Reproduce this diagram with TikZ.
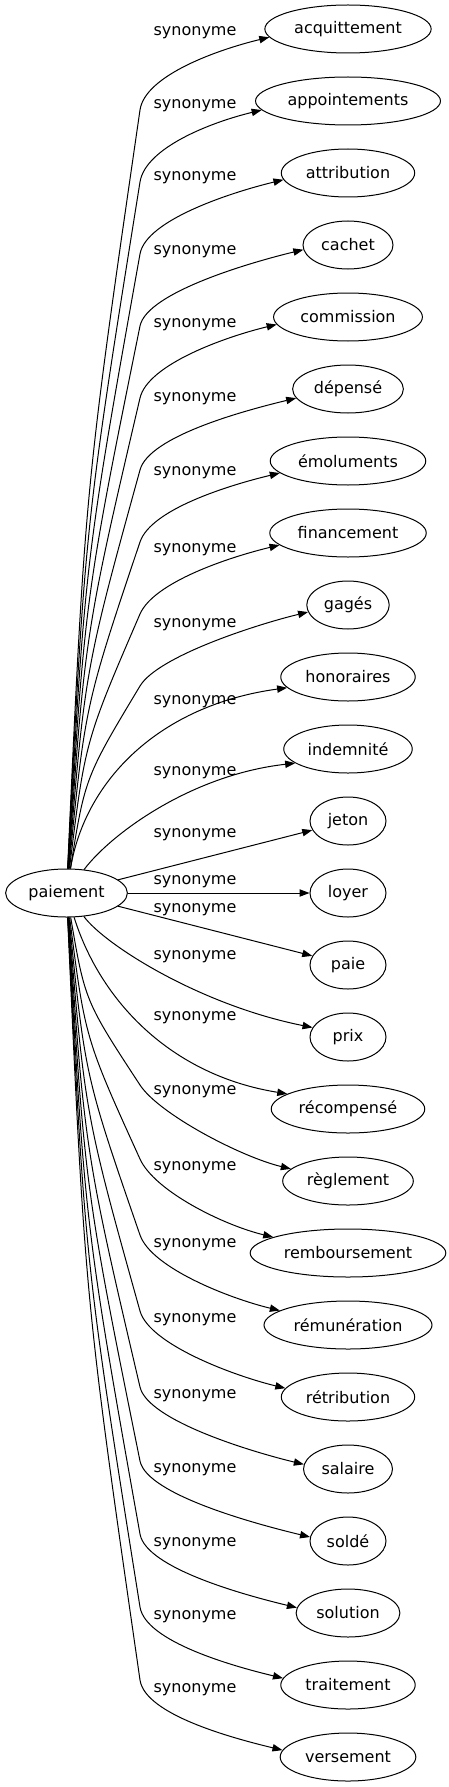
\documentclass[tikz,border=0pt]{standalone}
\usepackage{fontspec}
\setmainfont{DejaVu Sans}
\usepackage{tikz}
\usetikzlibrary{shapes.geometric,arrows.meta}

\begin{document}
\begin{tikzpicture}[x=0.75pt,y=0.75pt,yscale=-1,xscale=1,
    word/.style={draw, ellipse, line width=0.75pt, minimum height=36pt, minimum width=57pt, inner xsep=3.75pt, inner ysep=0pt, font=\fontsize{12pt}{14pt}\selectfont},
    syn/.style={inner sep=0pt, font=\fontsize{12pt}{14pt}\selectfont},
    arr/.style={line width=0.75pt, -{Triangle[length=7.5pt,width=5.5pt]}}]
        \useasboundingbox (0,0) rectangle (449,1787);

        \node[word] (paiement) at (66.5,893) {paiement};

        \node[word] (acquittement) at (348,29) {acquittement};
        \node[word] (appointements) at (348,101) {appointements};
        \node[word] (attribution) at (348,173) {attribution};
        \node[word] (cachet) at (348,245) {cachet};
        \node[word] (commission) at (348,317) {commission};
        \node[word] (depense) at (348,389) {dépensé};
        \node[word] (emoluments) at (348,461) {émoluments};
        \node[word] (financement) at (348,533) {financement};
        \node[word] (gages) at (348,605) {gagés};
        \node[word] (honoraires) at (348,677) {honoraires};
        \node[word] (indemnite) at (348,749) {indemnité};
        \node[word] (jeton) at (348,821) {jeton};
        \node[word] (loyer) at (348,893) {loyer};
        \node[word] (paie) at (348,965) {paie};
        \node[word] (prix) at (348,1037) {prix};
        \node[word] (recompense) at (348,1109) {récompensé};
        \node[word] (reglement) at (348,1181) {règlement};
        \node[word] (remboursement) at (348,1253) {remboursement};
        \node[word] (remuneration) at (348,1325) {rémunération};
        \node[word] (retribution) at (348,1397) {rétribution};
        \node[word] (salaire) at (348,1469) {salaire};
        \node[word] (solde) at (348,1541) {soldé};
        \node[word] (solution) at (348,1613) {solution};
        \node[word] (traitement) at (348,1685) {traitement};
        \node[word] (versement) at (348,1757) {versement};

        \node[syn] (acquittement-lab) at (195,33) {synonyme};
        \node[syn] (appointements-lab) at (195,106) {synonyme};
        \node[syn] (attribution-lab) at (195,178) {synonyme};
        \node[syn] (cachet-lab) at (195,252) {synonyme};
        \node[syn] (commission-lab) at (195,325) {synonyme};
        \node[syn] (depense-lab) at (195,399) {synonyme};
        \node[syn] (emoluments-lab) at (195,473) {synonyme};
        \node[syn] (financement-lab) at (195,550) {synonyme};
        \node[syn] (gages-lab) at (195,625) {synonyme};
        \node[syn] (honoraires-lab) at (195,702) {synonyme};
        \node[syn] (indemnite-lab) at (195,773) {synonyme};
        \node[syn] (jeton-lab) at (195,835) {synonyme};
        \node[syn] (loyer-lab) at (195,882) {synonyme};
        \node[syn] (paie-lab) at (195,910) {synonyme};
        \node[syn] (prix-lab) at (195,957) {synonyme};
        \node[syn] (recompense-lab) at (195,1018) {synonyme};
        \node[syn] (reglement-lab) at (195,1092) {synonyme};
        \node[syn] (remboursement-lab) at (195,1168) {synonyme};
        \node[syn] (remuneration-lab) at (195,1245) {synonyme};
        \node[syn] (retribution-lab) at (195,1320) {synonyme};
        \node[syn] (salaire-lab) at (195,1396) {synonyme};
        \node[syn] (solde-lab) at (195,1470) {synonyme};
        \node[syn] (solution-lab) at (195,1544) {synonyme};
        \node[syn] (traitement-lab) at (195,1617) {synonyme};
        \node[syn] (versement-lab) at (195,1690) {synonyme};

        % upper fan
        \draw[arr] (paiement) .. controls (85,489.5) .. (140,110) .. controls +(5,-35) and +(-50,12) .. (acquittement.186);
        \draw[arr] (paiement) .. controls (85,525.5) .. (140,182) .. controls +(5.5,-34.5) and +(-50,12) .. (appointements.186);
        \draw[arr] (paiement) .. controls (85,561.5) .. (140,254) .. controls +(6,-34.5) and +(-50,12) .. (attribution.186);
        \draw[arr] (paiement) .. controls (85,597.5) .. (140,326) .. controls +(7,-34) and +(-50,12) .. (cachet.186);
        \draw[arr] (paiement) .. controls (85,633.5) .. (140,398) .. controls +(8,-34) and +(-50,12) .. (commission.186);
        \draw[arr] (paiement) .. controls (85,669.5) .. (140,470) .. controls +(9,-34) and +(-50,12) .. (depense.190);
        \draw[arr] (paiement) .. controls (85,705.5) .. (140,542) .. controls +(11,-33) and +(-50,12) .. (emoluments.190);
        \draw[arr] (paiement) .. controls (85,741.5) .. (140,614) .. controls +(14,-32) and +(-50,12) .. (financement.190);
        \draw[arr] (paiement) .. controls (85,777.5) .. (140,686) .. controls +(18,-30) and +(-50,12) .. (gages.190);
        \draw[arr] (paiement) .. controls (85,780) and (160,705) .. (honoraires.190);
        \draw[arr] (paiement) .. controls (110,835) and (190,775) .. (indemnite.195);

        % middle
        \draw[arr] (paiement) -- (jeton);
        \draw[arr] (paiement) -- (loyer);
        \draw[arr] (paiement) -- (paie);

        % lower fan
        \draw[arr] (paiement) .. controls (105,945) and (200,1005) .. (prix.165);
        \draw[arr] (paiement) .. controls (100,1000) and (170,1075) .. (recompense.166);
        \draw[arr] (paiement) .. controls (85,1001) .. (140,1085) .. controls +(19,29) and +(-50,-12) .. (reglement.168);
        \draw[arr] (paiement) .. controls (85,1038) .. (140,1159) .. controls +(14.5,32) and +(-50,-12) .. (remboursement.168);
        \draw[arr] (paiement) .. controls (85,1076) .. (140,1235) .. controls +(11.5,33) and +(-50,-12) .. (remuneration.168);
        \draw[arr] (paiement) .. controls (85,1114) .. (140,1311) .. controls +(9.5,33.7) and +(-50,-12) .. (retribution.172);
        \draw[arr] (paiement) .. controls (85,1152) .. (140,1387) .. controls +(8,34) and +(-50,-12) .. (salaire.174);
        \draw[arr] (paiement) .. controls (85,1189) .. (140,1461) .. controls +(7,34.3) and +(-50,-12) .. (solde.174);
        \draw[arr] (paiement) .. controls (85,1225.5) .. (140,1534) .. controls +(6,34.5) and +(-50,-12) .. (solution.174);
        \draw[arr] (paiement) .. controls (85,1262) .. (140,1607) .. controls +(5.5,34.6) and +(-50,-12) .. (traitement.174);
        \draw[arr] (paiement) .. controls (85,1298.5) .. (140,1680) .. controls +(5,34.6) and +(-50,-12) .. (versement.174);

    \end{tikzpicture}
\end{document}
